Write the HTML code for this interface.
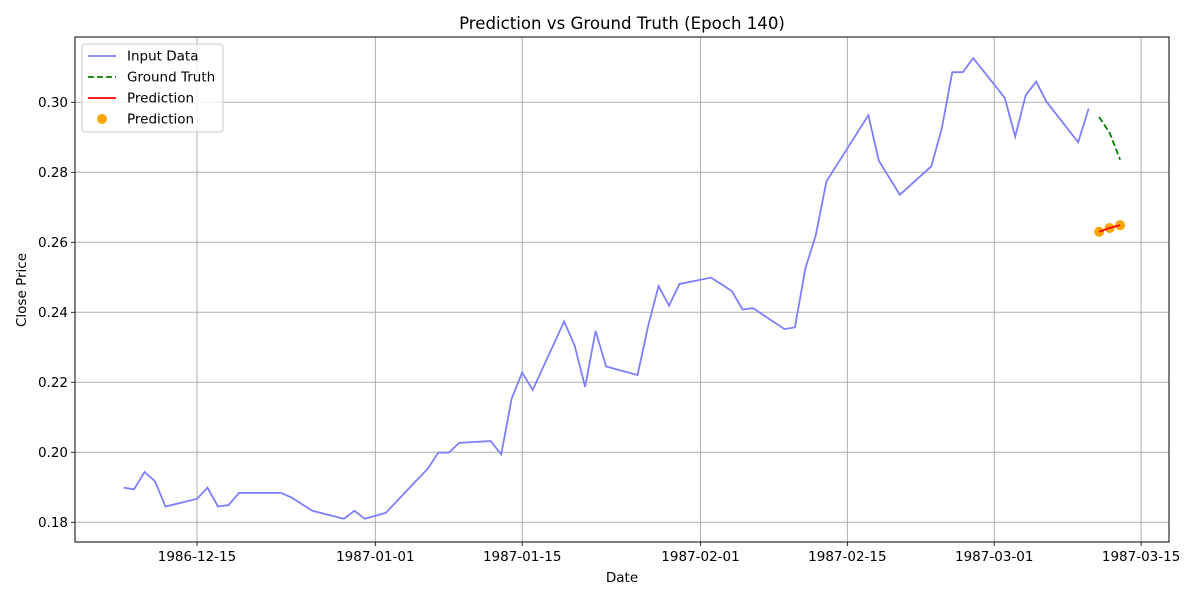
<!DOCTYPE html>
<html><head><meta charset="utf-8"><style>
body{margin:0;background:#fff}
svg{font-family:"DejaVu Sans","Liberation Sans",sans-serif}
</style></head><body>
<svg id="chart" width="1200" height="600" xmlns="http://www.w3.org/2000/svg"></svg>
<script>
const inputDates=["1986-12-08","1986-12-09","1986-12-10","1986-12-11","1986-12-12","1986-12-15","1986-12-16","1986-12-17","1986-12-18","1986-12-19","1986-12-22","1986-12-23","1986-12-24","1986-12-26","1986-12-29","1986-12-30","1986-12-31","1987-01-02","1987-01-05","1987-01-06","1987-01-07","1987-01-08","1987-01-09","1987-01-12","1987-01-13","1987-01-14","1987-01-15","1987-01-16","1987-01-19","1987-01-20","1987-01-21","1987-01-22","1987-01-23","1987-01-26","1987-01-27","1987-01-28","1987-01-29","1987-01-30","1987-02-02","1987-02-03","1987-02-04","1987-02-05","1987-02-06","1987-02-09","1987-02-10","1987-02-11","1987-02-12","1987-02-13","1987-02-17","1987-02-18","1987-02-20","1987-02-23","1987-02-24","1987-02-25","1987-02-26","1987-02-27","1987-03-02","1987-03-03","1987-03-04","1987-03-05","1987-03-06","1987-03-09","1987-03-10"];
const inputValues=[0.1899,0.1894,0.1944,0.1917,0.1845,0.1867,0.1899,0.1845,0.1849,0.1884,0.1884,0.1884,0.1871,0.1833,0.1810,0.1833,0.1810,0.1827,0.1922,0.1953,0.1999,0.1999,0.2027,0.2032,0.1994,0.2154,0.2228,0.2178,0.2374,0.2305,0.2187,0.2347,0.2245,0.2221,0.2360,0.2475,0.2419,0.2481,0.2499,0.2480,0.2460,0.2408,0.2412,0.2352,0.2357,0.2526,0.2622,0.2774,0.2963,0.2833,0.2736,0.2817,0.2925,0.3086,0.3086,0.3126,0.3013,0.2902,0.3020,0.3059,0.3001,0.2886,0.2982];
const futureDates=["1987-03-11","1987-03-12","1987-03-13"];
const truthValues=[0.2958,0.2913,0.2836];
const predValues=[0.2630,0.2641,0.2649];
const yTicks=[0.18,0.20,0.22,0.24,0.26,0.28,0.30];
const xTickDates=["1986-12-15","1987-01-01","1987-01-15","1987-02-01","1987-02-15","1987-03-01","1987-03-15"];

const svg=document.getElementById('chart');
const NS="http://www.w3.org/2000/svg";
const L=75,R=1169,T=37,B=542;
const base=Date.UTC(1986,11,15);
function days(s){const p=s.split('-');return (Date.UTC(+p[0],+p[1]-1,+p[2])-base)/86400000;}
const dMin=-11.63,dMax=92.66,yMin=0.17437,yMax=0.31866;
function X(s){return L+(days(s)-dMin)/(dMax-dMin)*(R-L);}
function Y(v){return B-(v-yMin)/(yMax-yMin)*(B-T);}
function el(tag,attrs,parent){const e=document.createElementNS(NS,tag);for(const k in attrs)e.setAttribute(k,attrs[k]);(parent||svg).appendChild(e);return e;}

const grid=el('g',{});


xTickDates.forEach(d=>{
  const x=X(d);
  el('line',{x1:x,x2:x,y1:T,y2:B,stroke:'#b0b0b0','stroke-width':1},grid);
  el('line',{x1:x,x2:x,y1:B,y2:B+4,stroke:'#000','stroke-width':0.8},grid);
  const t=el('text',{x:x,y:B+19,'text-anchor':'middle','font-size':13.5},grid);
  t.textContent=d;
  
  
});
yTicks.forEach(v=>{
  const y=Y(v);
  el('line',{x1:L,x2:R,y1:y,y2:y,stroke:'#b0b0b0','stroke-width':1},grid);
  el('line',{x1:L-4,x2:L,y1:y,y2:y,stroke:'#000','stroke-width':0.8},grid);
  const t=el('text',{x:L-7,y:y+4.5,'text-anchor':'end','font-size':13.5},grid);
  t.textContent=v.toFixed(2);
  
  
});

const inp=el('polyline',{points:inputDates.map((d,i)=>X(d)+','+Y(inputValues[i])).join(' '),fill:'none',stroke:'#7f7fff','stroke-width':1.8});


const gt=el('polyline',{points:futureDates.map((d,i)=>X(d)+','+Y(truthValues[i])).join(' '),fill:'none',stroke:'#008000','stroke-width':1.8,'stroke-dasharray':'6,3'});


futureDates.forEach((d,i)=>{
  const c=el('circle',{cx:X(d),cy:Y(predValues[i]),r:5,fill:'#ffa500'});
  
  
});
const pl=el('polyline',{points:futureDates.map((d,i)=>X(d)+','+Y(predValues[i])).join(' '),fill:'none',stroke:'#ff0000','stroke-width':1.8});



const frame=el('rect',{x:L,y:T,width:R-L,height:B-T,fill:'none',stroke:'#000','stroke-width':1});



const title=el('text',{x:(L+R)/2,y:29,'text-anchor':'middle','font-size':16.6});
title.textContent='Prediction vs Ground Truth (Epoch 140)';


const xl=el('text',{x:(L+R)/2,y:582,'text-anchor':'middle','font-size':13.5});
xl.textContent='Date';


const yl=el('text',{x:0,y:0,'text-anchor':'middle','font-size':13.5,transform:'translate(26,290) rotate(-90)'});
yl.textContent='Close Price';



const lg=el('g',{});


el('rect',{x:82,y:44,width:141,height:88,rx:3,fill:'#fff','fill-opacity':0.8,stroke:'#ccc'},lg);
const entries=[['Input Data','#7f7fff','line'],['Ground Truth','#008000','dash'],['Prediction','#ff0000','line'],['Prediction','#ffa500','dot']];
entries.forEach((e,i)=>{
  const y=56+i*21;
  if(e[2]==='dot') el('circle',{cx:102,cy:y,r:5,fill:e[1]},lg);
  else el('line',{x1:88,x2:116,y1:y,y2:y,stroke:e[1],'stroke-width':1.8,'stroke-dasharray':e[2]==='dash'?'6,3':'none'},lg);
  const t=el('text',{x:127,y:y+4.5,'font-size':13.5},lg);
  t.textContent=e[0];
  
  
});
</script>
</body></html>
